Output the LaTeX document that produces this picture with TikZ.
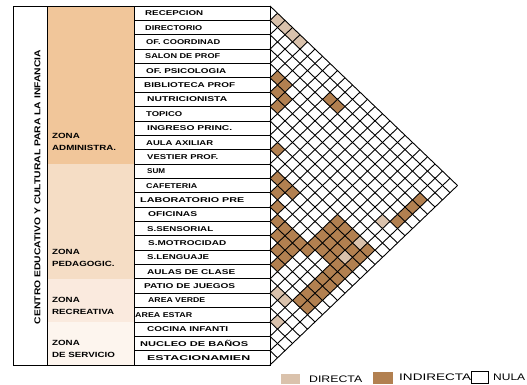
\documentclass[tikz,border=0pt]{standalone}
\usepackage{fontspec}
\setmainfont{Liberation Sans}
\usepackage{graphicx}
\newfontfamily\zfont[FakeStretch=1.3]{Liberation Sans}
\definecolor{zadm}{RGB}{241,198,154}
\definecolor{zped}{RGB}{245,221,197}
\definecolor{zrec}{RGB}{250,234,222}
\definecolor{zser}{RGB}{253,245,238}
\definecolor{cdir}{RGB}{218,194,172}
\definecolor{cind}{RGB}{178,128,80}
\newcommand\cel[3]{\fill[#1] ({270+(#3-#2)*7.5},{6+(#2+#3+1)*7.18}) +(-7.5,0) -- +(0,-7.18) -- +(7.5,0) -- +(0,7.18) -- cycle;}
\newcommand\fitw[2]{\resizebox{#1}{\height}{#2}}
\tikzset{
  gridline/.style={draw=black,line width=0.9pt},
  rowline/.style={draw=black,line width=0.75pt},
  frame/.style={draw=black,line width=1pt},
  nm/.style={anchor=base west,inner sep=0pt,font=\bfseries\fontsize{7}{7}\selectfont},
  zl/.style={anchor=base west,inner sep=0pt,font=\zfont\bfseries\fontsize{7.5}{7.5}\selectfont},
  lg/.style={anchor=base west,inner sep=0pt,font=\fontsize{9.5}{9.5}\selectfont}
}
\begin{document}
\begin{tikzpicture}[x=1pt,y=-1pt]
\useasboundingbox (0,0) rectangle (527,384);
% zone fills
\fill[zadm] (47,6) rectangle (134,163.96);
\fill[zped] (47,163.96) rectangle (134,278.84);
\fill[zrec] (47,278.84) rectangle (134,321.92);
\fill[zser] (47,321.92) rectangle (134,365);
% row lines
\foreach \k in {1,...,24} {\draw[rowline] (134,{6+14.36*\k}) -- (270,{6+14.36*\k});}
% frame
\draw[frame] (13,6) rectangle (270,365);
\draw[frame] (47,6) -- (47,365);
\draw[frame] (134,6) -- (134,365);
% title
\node[rotate=90,inner sep=0pt,name=title] at (37.5,187) {\fitw{274pt}{\bfseries\fontsize{8.5}{8.5}\selectfont CENTRO EDUCATIVO Y CULTURAL PARA LA INFANCIA}};
% zone labels
\node[zl,name=za1] at (52,138.5) {ZONA};
\node[zl,name=za2] at (52,150) {ADMINISTRA.};
\node[zl,name=zp1] at (52,254.5) {ZONA};
\node[zl,name=zp2] at (52,266) {PEDAGOGIC.};
\node[zl,name=zr1] at (52,302.5) {ZONA};
\node[zl,name=zr2] at (52,314) {RECREATIVA};
\node[zl,name=zs1] at (52,345) {ZONA};
\node[zl,name=zs2] at (52,357) {DE SERVICIO};
% names
\foreach \k/\xx/\ww/\lbl in {0/145/58/RECEPCION,1/145/57/DIRECTORIO,2/146/74/OF. COORDINAD,3/145/75/SALON DE PROF,4/146/80/OF. PSICOLOGIA,5/144/91/BIBLIOTECA PROF,6/147/80/NUTRICIONISTA,7/146/36/TOPICO,8/147/85/INGRESO PRINC.,9/146/67/AULA AXILIAR,10/147/71/VESTIER PROF.,11/147/18/SUM,12/146/51/CAFETERIA,13/140/104/LABORATORIO PRE,14/148/49/OFICINAS,15/147/66/S.SENSORIAL,16/148/78/S.MOTROCIDAD,17/147/62/S.LENGUAJE,18/147/88/AULAS DE CLASE,19/144/91/PATIO DE JUEGOS,20/148/57/AREA VERDE,21/135/57/AREA ESTAR,22/147/81/COCINA INFANTI,23/140/108/NUCLEO DE BAÑOS,24/147/103/ESTACIONAMIEN}
{\node[nm,name=r\k] at (\xx,{6+14.36*(\k+0.5)+2.6}) {\fitw{\ww pt}{\lbl}};}
% matrix cells
\foreach \i/\j in {0/1,0/2,0/3,0/4,7/22,10/22,12/22,19/20,19/21,21/22} {\cel{cdir}{\i}{\j}}
\foreach \i/\j in {2/10,2/11,4/5,4/6,5/6,5/7,6/7,9/10,11/12,11/13,11/14,12/13,13/14,
 14/15,14/16,14/17,14/18,15/16,15/17,15/18,16/17,16/18,17/18,14/19,
 10/19,10/20,10/21,10/23,11/19,11/20,11/21,11/22,11/23,12/19,12/20,12/21,12/23,
 13/19,13/20,13/21,13/22,13/23,
 14/22,15/22,16/22,17/22,18/22,14/23,15/23,16/23,17/23,18/23,3/23,4/23,5/23,6/23}
 {\cel{cind}{\i}{\j}}
% grid lines
\foreach \k in {0,...,25} {
  \draw[gridline] (270,{6+2*\k*7.18}) -- ++({(25-\k)*7.5},{(25-\k)*7.18});
  \draw[gridline] (270,{6+2*\k*7.18}) -- ++({\k*7.5},{-\k*7.18});
}
% legend
\fill[cdir] (280.5,374) rectangle (299.5,384);
\node[lg,name=ld] at (309,382.5) {\fitw{53pt}{DIRECTA}};
\fill[cind] (372.5,371.5) rectangle (392.5,383.5);
\node[lg,name=li] at (399,380) {\fitw{72pt}{INDIRECTA}};
\draw[black,line width=0.9pt] (471,371) rectangle (488,383.3);
\node[lg,name=ln] at (493,380) {\fitw{32pt}{NULA}};
\end{tikzpicture}
\end{document}
